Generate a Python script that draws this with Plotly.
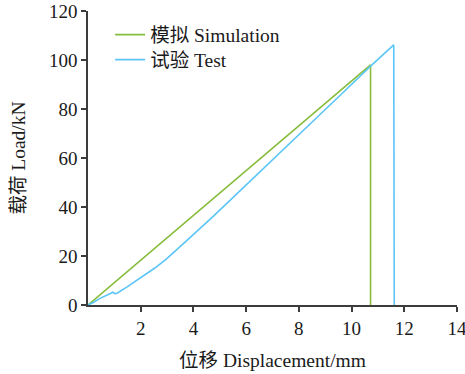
import plotly.graph_objects as go

# Simulation (模拟) displacement (mm) and load (kN)
sim_x = [0, 10.72, 10.72]
sim_y = [0, 98.0, 0]

# Test (试验) displacement (mm) and load (kN)
test_x = [0, 0.2, 0.44, 0.7, 0.83, 0.95, 1.02, 1.1, 1.47, 2.1, 2.55, 2.99,
          3.4, 3.87, 4.77, 5.35, 6.14, 7.2, 8.28, 9.5, 10.7, 11.6, 11.62]
test_y = [0, 1.0, 2.6, 3.9, 4.4, 5.2, 4.6, 4.8, 7.3, 11.8, 15.2, 18.9,
          22.8, 27.5, 36.4, 42.4, 50.5, 61.2, 72.4, 84.9, 97.3, 106.2, 0]

x_ticks = [2, 4, 6, 8, 10, 12, 14]
y_ticks = [0, 20, 40, 60, 80, 100, 120]

names = ["模拟 Simulation", "试验 Test"]
colors = ["#86BC3C", "#5BC5F7"]

FONT = "Liberation Serif, 'Times New Roman', 'Noto Sans CJK SC', serif"

fig = go.Figure()
fig.add_trace(go.Scatter(x=sim_x, y=sim_y, mode="lines", name=names[0],
                         legend="legend",
                         line=dict(color=colors[0], width=1.6)))
fig.add_trace(go.Scatter(x=test_x, y=test_y, mode="lines", name=names[1],
                         legend="legend2",
                         line=dict(color=colors[1], width=1.6)))

axis_common = dict(showline=True, linecolor="#3c3c3c", linewidth=1.5,
                   ticks="outside", ticklen=5, tickwidth=1.5, tickcolor="#3c3c3c",
                   showgrid=False, zeroline=False, ticklabeloverflow="allow",
                   automargin=False,
                   tickfont=dict(family=FONT, size=19, color="#1a1a1a"))

legend_common = dict(x=0.06, xanchor="left", yanchor="middle",
                     bgcolor="rgba(0,0,0,0)", borderwidth=0,
                     font=dict(family=FONT, size=19.5), itemwidth=30)

fig.update_layout(
    width=465, height=374,
    margin=dict(l=88, r=8, t=11, b=69, autoexpand=False),
    paper_bgcolor="white", plot_bgcolor="white",
    font=dict(family=FONT, color="#1a1a1a"),
    xaxis=dict(range=[0, 14], tickvals=x_ticks, **axis_common,
               title=dict(text="位移 Displacement/mm", standoff=16,
                          font=dict(family=FONT, size=19.5))),
    yaxis=dict(range=[0, 120], tickvals=y_ticks, **axis_common,
               title=dict(text="载荷 Load/kN", standoff=18,
                          font=dict(family=FONT, size=19.5))),
    legend=dict(y=(305.5 - 35) / 294.5, **legend_common),
    legend2=dict(y=(305.5 - 60) / 294.5, **legend_common),
    showlegend=True,
)

fig.write_html("out.html")
